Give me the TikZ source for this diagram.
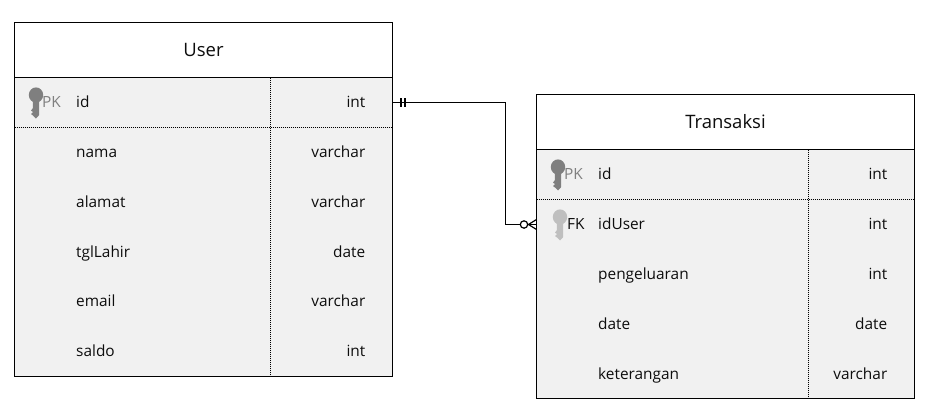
\documentclass[tikz,border=0pt]{standalone}
\usepackage{fontspec}
\setmainfont{Open Sans}
\begin{document}
\begin{tikzpicture}[x=1pt,y=-1pt,
  tbl/.style={draw=black,line width=1.2pt,fill=rowgray,minimum width=378pt,inner sep=0pt,outer sep=0pt},
  head/.style={draw=black,line width=1.2pt,fill=white,minimum width=378pt,minimum height=55pt,inner sep=0pt,outer sep=0pt,font=\fontsize{18.5}{20}\selectfont,text=black!95},
  ftext/.style={font=\fontsize{15.4}{17}\selectfont,inner sep=0pt,text=black!95},
  fname/.style={ftext,anchor=base west},
  ftype/.style={ftext,anchor=base east},
  pklab/.style={ftext,anchor=base west,text=pkgray},
  fklab/.style={ftext,anchor=base west},
  sep/.style={densely dotted,line width=1pt,black},
  rel/.style={line width=1.2pt,black},
  keypk/.pic={\fill[keydark] (0,-8) circle (7.2 and 7.6);
    \fill[keydark] (-3.2,-3) -- (3.2,-3) -- (3.2,12) -- (0,15.5) -- (-3,12.5) -- (-5,11) -- (-3,9) -- (-5,7.5) -- (-3,5) -- cycle;},
  keyfk/.pic={\fill[keylight] (0,-8) circle (7.2 and 7.6);
    \fill[keylight] (-3.2,-3) -- (3.2,-3) -- (3.2,12) -- (0,15.5) -- (-3,12.5) -- (-5,11) -- (-3,9) -- (-5,7.5) -- (-3,5) -- cycle;}
]
\definecolor{rowgray}{HTML}{F1F1F1}
\definecolor{pkgray}{HTML}{808080}
\definecolor{keydark}{HTML}{7F7F7F}
\definecolor{keylight}{HTML}{BFBFBF}
\useasboundingbox (0,0) rectangle (946,418);
\fill[white] (0,0) rectangle (946,418);

% User table
\node[tbl,anchor=north west,minimum height=354pt] (userbox) at (14.5,22.5) {};
\node[head,anchor=north west] (userhead) at (14.5,22.5) {User};
\draw[sep] (270.5,77.5) -- (270.5,376.5);
\draw[sep] (14.5,127.5) -- (392.5,127.5);
\pic at (36,103) {keypk};
\node[pklab] (upk) at (42,107.5) {PK};
\node[fname] (u1) at (76,107.5) {id};      \node[ftype] (u1t) at (365.5,107.5) {int};
\node[fname] (u2) at (76,157.5) {nama};    \node[ftype] (u2t) at (365.5,157.5) {varchar};
\node[fname] (u3) at (76,207.5) {alamat};  \node[ftype] (u3t) at (365.5,207.5) {varchar};
\node[fname] (u4) at (76,257.5) {tglLahir};\node[ftype] (u4t) at (365.5,257.5) {date};
\node[fname] (u5) at (76,306.5) {email};   \node[ftype] (u5t) at (365.5,306.5) {varchar};
\node[fname] (u6) at (76,356.5) {saldo};   \node[ftype] (u6t) at (365.5,356.5) {int};

% Transaksi table
\node[tbl,anchor=north west,minimum height=304pt] (trbox) at (536.5,94.5) {};
\node[head,anchor=north west] (trhead) at (536.5,94.5) {Transaksi};
\draw[sep] (808.5,149.5) -- (808.5,398.5);
\draw[sep] (536.5,199.5) -- (914.5,199.5);
\pic at (558,175) {keypk};
\node[pklab] (tpk) at (564,179.5) {PK};
\pic at (560,225) {keyfk};
\node[fklab] (tfk) at (567,229.5) {FK};
\node[fname] (t1) at (598,179.5) {id};          \node[ftype] (t1t) at (887.5,179.5) {int};
\node[fname] (t2) at (598,229.5) {idUser};      \node[ftype] (t2t) at (887.5,229.5) {int};
\node[fname] (t3) at (598,279.5) {pengeluaran}; \node[ftype] (t3t) at (887.5,279.5) {int};
\node[fname] (t4) at (598,329.5) {date};        \node[ftype] (t4t) at (887.5,329.5) {date};
\node[fname] (t5) at (598,379.5) {keterangan};  \node[ftype] (t5t) at (887.5,379.5) {varchar};

% Relationship
\coordinate (ra) at (userbox.east |- 0,102.5);
\coordinate (rb) at (trbox.west |- 0,224.5);
\draw[rel] (ra) -- (505.5,102.5) -- (505.5,224.5) -- (rb);
\draw[rel] ([xshift=8.5]ra)+(0,-4.5) -- +(0,4.5);
\draw[rel] ([xshift=12.5]ra)+(0,-4.5) -- +(0,4.5);
\draw[rel,fill=white] ([xshift=-12.5]rb) circle (3.7);
\draw[rel] ([xshift=-8]rb) -- ([yshift=-5]rb);
\draw[rel] ([xshift=-8]rb) -- ([yshift=5]rb);
\end{tikzpicture}
\end{document}
